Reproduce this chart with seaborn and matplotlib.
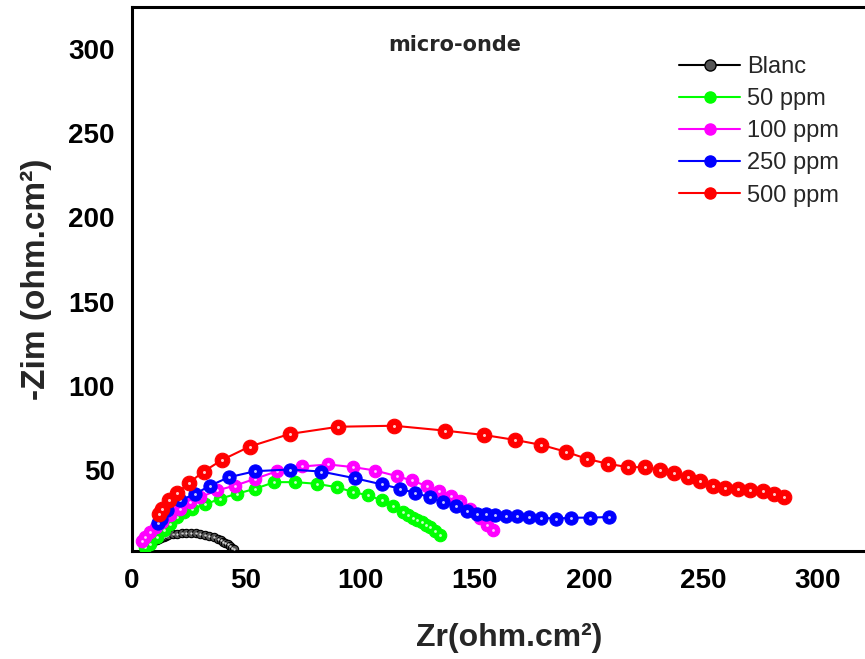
import matplotlib
matplotlib.use('Agg')
import matplotlib.pyplot as plt
import seaborn as sns
from matplotlib.lines import Line2D

labels = ['Blanc', '50 ppm', '100 ppm', '250 ppm', '500 ppm']
colors = ['#000000', '#00FF00', '#FF00FF', '#0000FF', '#FF0000']

blanc_x = [7, 8, 9, 10, 11, 12, 13, 14, 15, 16, 18, 20, 22, 24, 26, 28, 30, 32, 34, 36, 38, 39, 40, 41, 42, 43, 44, 45]
blanc_y = [3.5, 5.5, 6.8, 7.8, 8.6, 9.3, 9.9, 10.4, 10.8, 11.2, 11.8, 12.2, 12.5, 12.6, 12.6, 12.4, 12.1, 11.6, 10.9, 10.0, 8.9, 8.2, 7.5, 6.7, 5.8, 4.9, 3.9, 3.0]

p50_x = [6.0, 8.3, 11.2, 14.1, 17.0, 19.9, 22.8, 26.5, 32.3, 38.8, 46.1, 54.1, 62.5, 71.6, 81.0, 89.7, 97.0, 103.5, 109.4, 114.4, 118.8, 121.0, 123.2, 125.0, 126.8, 128.7, 130.5, 132.7, 134.8]
p50_y = [4.0, 6.3, 10.2, 14.2, 18.2, 22.1, 25.0, 27.0, 29.6, 33.0, 35.9, 38.9, 42.8, 42.8, 41.8, 39.8, 36.9, 34.9, 32.0, 28.4, 25.0, 23.4, 21.7, 20.4, 19.1, 17.6, 16.2, 13.7, 11.2]

p100_x = [4.4, 6.1, 8.3, 10.5, 13.4, 17.0, 21.4, 25.7, 30.1, 37.4, 45.4, 54.1, 63.6, 74.5, 86.1, 97.0, 106.5, 115.9, 122.5, 129.0, 134.6, 139.6, 143.5, 147.9, 152.3, 155.2, 158.1]
p100_y = [7.7, 10.2, 13.2, 16.2, 19.1, 23.1, 27.0, 30.9, 33.9, 37.9, 40.8, 44.8, 49.3, 52.1, 53.3, 51.7, 49.7, 46.4, 43.8, 40.5, 37.6, 34.6, 31.5, 27.0, 21.7, 17.2, 14.2]

p250_x = [11.5, 12.7, 15.6, 21.4, 27.9, 34.5, 42.5, 54.1, 69.1, 82.9, 97.7, 109.6, 117.4, 123.9, 130.5, 136.3, 141.8, 146.7, 150.8, 154.9, 158.8, 163.6, 168.3, 173.8, 179.2, 185.7, 192.3, 200.3, 208.7]
p250_y = [18.5, 21.1, 26.0, 32.0, 35.9, 40.8, 45.7, 49.3, 50.3, 49.1, 45.1, 41.4, 38.9, 36.3, 33.9, 30.9, 28.4, 25.4, 24.1, 24.1, 23.5, 22.7, 22.7, 22.1, 21.7, 21.1, 21.7, 21.7, 22.1]

p500_x = [12.0, 13.4, 16.3, 19.9, 25.0, 31.5, 39.6, 51.6, 69.1, 90.4, 114.7, 137.0, 154.1, 167.5, 179.2, 189.7, 199.1, 208.2, 217.0, 224.6, 230.8, 237.3, 243.2, 248.3, 254.1, 259.5, 265.0, 270.5, 275.9, 281.0, 285.3]
p500_y = [24.0, 27.0, 32.0, 36.3, 42.2, 49.1, 56.0, 63.9, 71.4, 75.7, 76.3, 73.4, 70.8, 67.9, 64.9, 60.9, 56.6, 53.7, 51.7, 51.7, 50.3, 48.3, 45.7, 43.2, 40.8, 39.5, 38.9, 37.9, 37.3, 35.9, 33.9]

xticks = [0, 50, 100, 150, 200, 250, 300]
yticks = [50, 100, 150, 200, 250, 300]

series_x = [blanc_x, p50_x, p100_x, p250_x, p500_x]
series_y = [blanc_y, p50_y, p100_y, p250_y, p500_y]
msizes = [6.0, 9, 9, 9.5, 10.5]
face = ['#555555', '#00FF00', '#FF00FF', '#0000FF', '#FF0000']

sns.set_theme(style='white')
plt.rcParams['font.family'] = ['Liberation Sans', 'DejaVu Sans']

fig = plt.figure(figsize=(8.65, 6.59), dpi=100)
ax = fig.add_axes([131.5 / 865, 108 / 659, 755 / 865, 544 / 659])

for i, (xs, ys) in enumerate(zip(series_x, series_y)):
    sns.lineplot(x=xs, y=ys, sort=False, ax=ax, color=colors[i], linewidth=1.5,
                 marker='o', markersize=msizes[i], markerfacecolor=face[i],
                 markeredgecolor=colors[i], markeredgewidth=0.8, zorder=2 + 2 * i,
                 legend=False)
    sns.scatterplot(x=xs, y=ys, ax=ax, color='white', s=msizes[i] * 0.45,
                    alpha=0.8, linewidth=0, zorder=3 + 2 * i, legend=False)

ax.set_xlim(0.5, 330)
ax.set_ylim(1.9, 325)
ax.set_xticks(xticks)
ax.set_yticks(yticks)
ax.tick_params(direction='in', length=10, width=2.2, labelsize=20, pad=12, colors='black')
for lab in ax.get_xticklabels() + ax.get_yticklabels():
    lab.set_fontweight('bold')
for sp in ax.spines.values():
    sp.set_visible(True)
    sp.set_linewidth(2.2)
    sp.set_color('black')

ax.set_xlabel('Zr(ohm.cm\u00b2)', fontsize=23, fontweight='bold', labelpad=21)
ax.set_ylabel('-Zim (ohm.cm\u00b2)', fontsize=24, fontweight='bold', labelpad=12)

fig.text(455 / 865, 1 - 45 / 659, 'micro-onde', ha='center', va='center',
         fontsize=15, fontweight='bold', family='DejaVu Sans')

handles = [Line2D([0], [0], color=colors[i], linewidth=1.5, marker='o', markersize=8,
                  markerfacecolor=face[i], markeredgecolor=colors[i]) for i in range(5)]
leg = fig.legend(handles, labels, loc='upper left', bbox_to_anchor=(679 / 865, 1 - 56 / 659),
                 frameon=False, fontsize=17, handlelength=2.6, handletextpad=0.3,
                 labelspacing=0.43, borderpad=0, borderaxespad=0)

fig.savefig('out.png', dpi=100)
